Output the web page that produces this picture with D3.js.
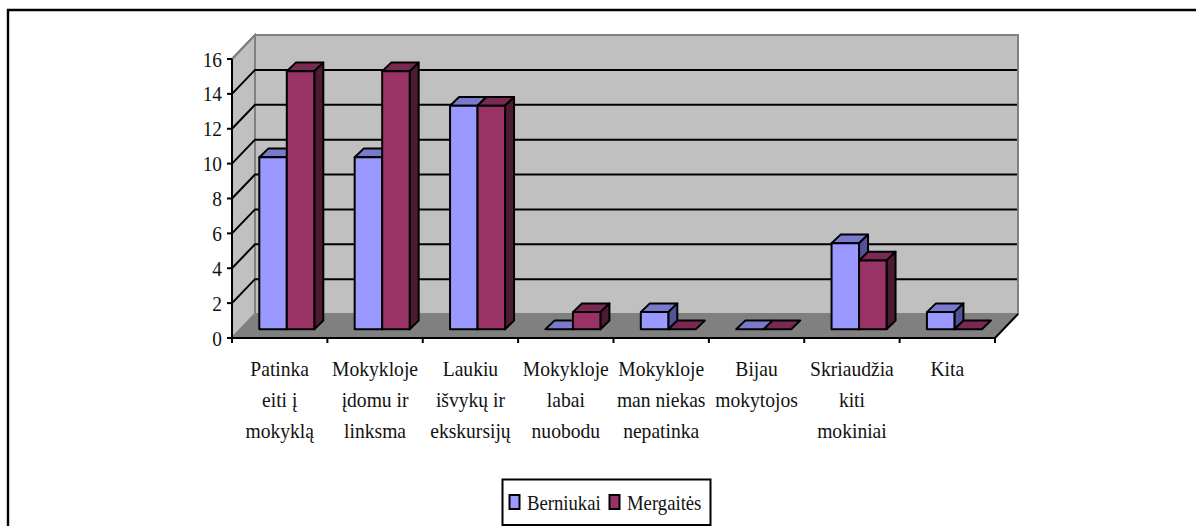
<!DOCTYPE html>
<html><head><meta charset="utf-8">
<script src="https://cdn.jsdelivr.net/npm/d3@7"></script>
<style>html,body{margin:0;padding:0;background:#fff}svg{display:block}text{font-family:"Liberation Serif",serif;fill:#111}</style>
</head><body><svg id="c" width="1196" height="526"></svg>
<script>
const categories=[["Patinka","eiti į","mokyklą"],["Mokykloje","įdomu ir","linksma"],["Laukiu","išvykų ir","ekskursijų"],["Mokykloje","labai","nuobodu"],["Mokykloje","man niekas","nepatinka"],["Bijau","mokytojos"],["Skriaudžia","kiti","mokiniai"],["Kita"]];
const berniukai=[10,10,13,0,1,0,5,1];
const mergaites=[15,15,13,1,0,0,4,0];
const yTicks=[0,2,4,6,8,10,12,14,16];
const seriesNames=["Berniukai","Mergaitės"];
const svg=d3.select("#c");
const L=232,R=995,B=338,T=59,DX=23,DY=-24;
const x=d3.scaleBand().domain(d3.range(categories.length)).range([L,R]);
const y=d3.scaleLinear().domain([0,16]).range([B,T]);
const k="#000";
const poly=(pts,fill,sw=2)=>svg.append("polygon").attr("points",pts.map(p=>p.join(",")).join(" ")).attr("fill",fill).attr("stroke",k).attr("stroke-width",sw).attr("stroke-linejoin","round");
// frame
svg.append("path").attr("d","M8,526V10H1196").attr("fill","none").attr("stroke","#000").attr("stroke-width",2.4);
// walls
const wg="#808080";
svg.append("polygon").attr("points",[[L,B],[L+DX,B+DY],[L+DX,T+DY],[L,T]].join(" ")).attr("fill","#c0c0c0").attr("stroke",wg).attr("stroke-width",2);
svg.append("polygon").attr("points",[[L+DX,B+DY],[R+DX,B+DY],[R+DX,T+DY],[L+DX,T+DY]].join(" ")).attr("fill","#c0c0c0").attr("stroke",wg).attr("stroke-width",2);
svg.append("polygon").attr("points",[[L,B],[R,B],[R+DX,B+DY],[L+DX,B+DY]].join(" ")).attr("fill","#808080").attr("stroke",wg).attr("stroke-width",1);
// grid
yTicks.filter(t=>t>0&&t<16).forEach(t=>{
 svg.append("path").attr("d",`M${L},${y(t)}L${L+DX},${y(t)+DY}H${R+DX-1}`).attr("fill","none").attr("stroke",k).attr("stroke-width",2);
});
svg.append("line").attr("x1",L).attr("x2",L+DX).attr("y1",T).attr("y2",T+DY).attr("stroke",wg).attr("stroke-width",2);
// axes
svg.append("path").attr("d",`M${L},${T}V${B}H${R}L${R+DX},${B+DY}`).attr("fill","none").attr("stroke",k).attr("stroke-width",2);
yTicks.forEach(t=>{svg.append("line").attr("x1",L-5).attr("x2",L).attr("y1",y(t)).attr("y2",y(t)).attr("stroke",k).attr("stroke-width",2);
 svg.append("text").attr("transform",`translate(222,${y(t)+7.5}) scale(0.88,1)`).attr("text-anchor","end").attr("font-size",22).text(t);});
d3.range(categories.length+1).forEach(i=>{const px=i<categories.length?x(i):R;svg.append("line").attr("x1",px).attr("x2",px).attr("y1",B).attr("y2",B+5).attr("stroke",k).attr("stroke-width",2);});
categories.forEach((c,i)=>c.forEach((s,j)=>{svg.append("text").attr("transform",`translate(${x(i)+x.bandwidth()/2},${376+j*31}) scale(0.89,1)`).attr("text-anchor","middle").attr("font-size",22).text(s);}));
// bars
const bandOff=27.3,barW=27.5,dep=9,depY=-8.7,base=329.3,unit=17.2;
const vh=d3.scaleLinear().domain([0,1]).range([0,unit]);
const cols=[{f:"#9999ff",t:"#7a7acc",s:"#525299"},{f:"#993366",t:"#7a2952",s:"#4d1a33"}];
function bar(x0,v,c){const top=base-vh(v),x1=x0+barW;
 poly([[x0,top],[x0+dep,top+depY],[x1+dep,top+depY],[x1,top]],c.t);
 if(v>0){poly([[x1,top],[x1+dep,top+depY],[x1+dep,base+depY],[x1,base]],c.s);
 poly([[x0,top],[x1,top],[x1,base],[x0,base]],c.f);}
}
categories.forEach((c,i)=>{const x0=x(i)+bandOff;
 bar(x0,berniukai[i],cols[0]);bar(x0+barW,mergaites[i],cols[1]);});
// legend
svg.append("rect").attr("x",502.5).attr("y",479.5).attr("width",208).attr("height",45.5).attr("fill","#fff").attr("stroke",k).attr("stroke-width",2);
seriesNames.forEach((n,i)=>{const lx=[509,609][i];
 svg.append("rect").attr("x",lx+.5).attr("y",495).attr("width",10).attr("height",14).attr("fill",cols[i].f).attr("stroke",k).attr("stroke-width",2);
 svg.append("text").attr("transform",`translate(${lx+18},510) scale(0.85,1)`).attr("font-size",22).text(n);});
</script></body></html>
